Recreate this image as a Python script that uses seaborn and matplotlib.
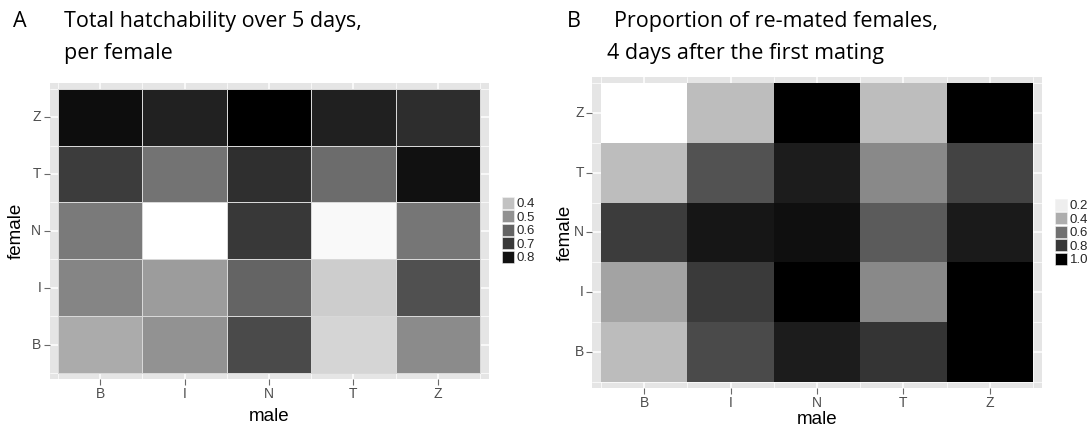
import numpy as np
import pandas as pd
import matplotlib
matplotlib.use("Agg")
import matplotlib.pyplot as plt
from matplotlib.colors import ListedColormap, Normalize
from matplotlib.patches import Patch
import seaborn as sns

# ---------------- data ----------------
males = ["B", "I", "N", "T", "Z"]
females = ["Z", "T", "N", "I", "B"]          # top to bottom

hatch_Z = [0.81, 0.757, 0.83, 0.762, 0.729]
hatch_T = [0.69, 0.563, 0.721, 0.579, 0.801]
hatch_N = [0.548, 0.28, 0.70, 0.291, 0.555]
hatch_I = [0.524, 0.476, 0.597, 0.378, 0.643]
hatch_B = [0.447, 0.497, 0.657, 0.363, 0.51]

remate_Z = [0.15, 0.35, 1.0, 0.35, 1.0]
remate_T = [0.35, 0.703, 0.912, 0.512, 0.759]
remate_N = [0.784, 0.935, 0.963, 0.668, 0.922]
remate_I = [0.43, 0.792, 1.0, 0.515, 1.0]
remate_B = [0.355, 0.732, 0.912, 0.815, 1.0]

hatch_breaks = [0.4, 0.5, 0.6, 0.7, 0.8]
remate_breaks = [0.2, 0.4, 0.6, 0.8, 1.0]

title_A = ["Total hatchability over 5 days,", "per female"]
title_B = ["Proportion of re-mated females,", "4 days after the first mating"]

hatch = pd.DataFrame([hatch_Z, hatch_T, hatch_N, hatch_I, hatch_B], index=females, columns=males)
remate = pd.DataFrame([remate_Z, remate_T, remate_N, remate_I, remate_B], index=females, columns=males)

# ---------------- colormap: white -> black, linear in Lab lightness ----------------
L = np.linspace(100, 0, 256)
Y = np.where(L > 8, ((L + 16) / 116) ** 3, L / 903.3)
g = np.where(Y > 0.0031308, 1.055 * np.power(Y, 1 / 2.4) - 0.055, 12.92 * Y)
g = np.clip(g, 0, 1)
cmap = ListedColormap(np.column_stack([g, g, g]))

sns.set_theme(style="white")
plt.rcParams["font.family"] = ["Liberation Sans", "DejaVu Sans"]

W, H = 1092, 426
fig = plt.figure(figsize=(W / 100, H / 100), dpi=100)


def px_axes(x0, y0, x1, y1):
    return fig.add_axes([x0 / W, 1 - y1 / H, (x1 - x0) / W, (y1 - y0) / H])


def panel(ax, df, breaks, edgecolor, lw, female_x, male_y, leg_x, leg_y):
    norm = Normalize(vmin=df.values.min(), vmax=df.values.max())
    ax.set_facecolor("#e5e5e5")
    ax.set_axisbelow(True)
    sns.heatmap(df, ax=ax, cmap=cmap, vmin=norm.vmin, vmax=norm.vmax, cbar=False,
                linewidths=lw, linecolor=edgecolor, square=False)
    ax.set_xlim(-0.1, 5.1)
    ax.set_ylim(5.1, -0.1)
    # grid (major at centres, minor at tile borders)
    ax.set_xticks(np.arange(6), minor=True)
    ax.set_yticks(np.arange(6), minor=True)
    ax.grid(True, which="major", color="white", linewidth=1.1)
    ax.grid(True, which="minor", color="white", linewidth=0.5)
    ax.tick_params(which="minor", length=0)
    ax.tick_params(which="major", length=4, width=0.8, color="#6a6a6a",
                   labelcolor="#4d4d4d", labelsize=10, pad=2,
                   bottom=True, left=True)
    ax.set_yticklabels(females, rotation=0)
    ax.set_xticklabels(males, rotation=0)
    for s in ax.spines.values():
        s.set_visible(False)
    ax.set_xlabel("male", fontsize=13.5, color="black")
    ax.set_ylabel("female", fontsize=13.5, color="black")
    ax.xaxis.set_label_coords(0.5, male_y)
    ax.xaxis.label.set_verticalalignment("center")
    ax.yaxis.set_label_coords(female_x, 0.5)
    ax.yaxis.label.set_verticalalignment("center")
    handles = [Patch(facecolor=cmap(norm(b)), edgecolor="#f2f2f2", linewidth=0.4, label=f"{b:.1f}")
               for b in breaks]
    fig.legend(handles=handles, loc="upper left",
               bbox_to_anchor=(leg_x / W, 1 - leg_y / H), frameon=False,
               fontsize=9.5, handlelength=0.9, handleheight=1.0, labelspacing=0.0,
               handletextpad=0.2, borderpad=0, borderaxespad=0)


axA = px_axes(49.5, 83, 488.5, 378.7)
panel(axA, hatch, hatch_breaks, "#d8d8d8", 0.4, -0.0763, -0.1295, 502, 197)

axB = px_axes(592.4, 77, 1041.6, 388)
panel(axB, remate, remate_breaks, "#b0b0b0", 0.0, -0.061, -0.0997, 1055, 199)

# titles
tfont = dict(family=["Open Sans", "DejaVu Sans"], fontsize=15.5, color="black", va="baseline")
fig.text(13 / W, 1 - 27 / H, "A", **tfont)
fig.text(64 / W, 1 - 27 / H, title_A[0], **tfont)
fig.text(64 / W, 1 - 59 / H, title_A[1], **tfont)
fig.text(567 / W, 1 - 27 / H, "B", **tfont)
fig.text(614 / W, 1 - 27 / H, title_B[0], **tfont)
fig.text(607 / W, 1 - 59 / H, title_B[1], **tfont)

fig.savefig("out.png", dpi=100, facecolor="white")
